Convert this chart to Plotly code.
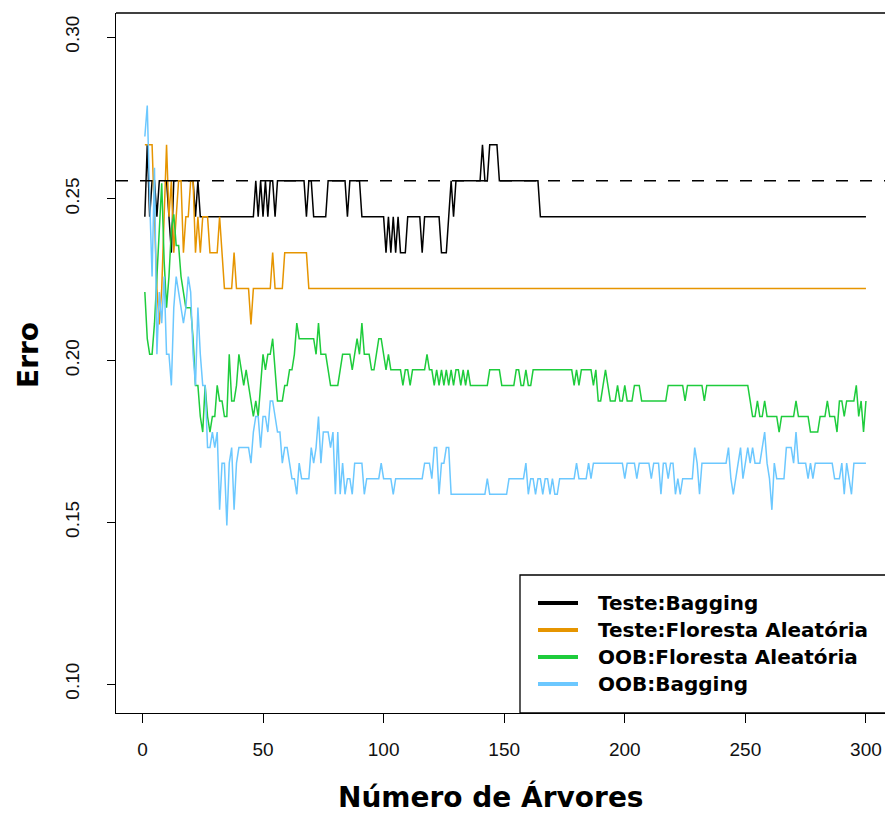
import plotly.graph_objects as go

# ---------------- data ----------------
N_TESTE = 90      # test-set size (errors are multiples of 1/90)
N_OOB = 208       # approx. OOB denominator (errors are multiples of ~1/208)

arvores = list(range(1, 301))

# number of misclassified test cases, Bagging
teste_bagging_erros = [
    22, 24, 22, 23, 23, 22, 23, 23, 23, 23,
    22, 21, 23, 23, 23, 23, 23, 23, 23, 23,
    23, 22, 23, 22, 22, 22, 22, 22, 22, 22,
    22, 22, 22, 22, 22, 22, 22, 22, 22, 22,
    22, 22, 22, 22, 22, 22, 23, 22, 23, 22,
    23, 22, 23, 23, 22, 23, 23, 23, 23, 23,
    23, 23, 23, 23, 23, 23, 23, 22, 23, 23,
    22, 22, 22, 22, 22, 22, 23, 23, 23, 23,
    23, 23, 23, 23, 22, 23, 23, 23, 23, 23,
    22, 22, 22, 22, 22, 22, 22, 22, 22, 22,
    21, 22, 21, 22, 21, 22, 21, 21, 21, 22,
    22, 22, 22, 22, 22, 21, 22, 22, 22, 22,
    22, 22, 22, 21, 21, 21, 22, 23, 22, 23,
    23, 23, 23, 23, 23, 23, 23, 23, 23, 23,
    24, 23, 23, 24, 24, 24, 24, 23, 23, 23,
    23, 23, 23, 23, 23, 23, 23, 23, 23, 23,
    23, 23, 23, 23, 22, 22, 22, 22, 22, 22,
    22, 22, 22, 22, 22, 22, 22, 22, 22, 22,
    22, 22, 22, 22, 22, 22, 22, 22, 22, 22,
    22, 22, 22, 22, 22, 22, 22, 22, 22, 22,
    22, 22, 22, 22, 22, 22, 22, 22, 22, 22,
    22, 22, 22, 22, 22, 22, 22, 22, 22, 22,
    22, 22, 22, 22, 22, 22, 22, 22, 22, 22,
    22, 22, 22, 22, 22, 22, 22, 22, 22, 22,
    22, 22, 22, 22, 22, 22, 22, 22, 22, 22,
    22, 22, 22, 22, 22, 22, 22, 22, 22, 22,
    22, 22, 22, 22, 22, 22, 22, 22, 22, 22,
    22, 22, 22, 22, 22, 22, 22, 22, 22, 22,
    22, 22, 22, 22, 22, 22, 22, 22, 22, 22,
    22, 22, 22, 22, 22, 22, 22, 22, 22, 22,
]

# number of misclassified test cases, Random Forest
teste_floresta_erros = [
    24, 24, 24, 24, 22, 20, 19, 20, 22, 24,
    22, 23, 21, 22, 23, 23, 21, 22, 22, 23,
    23, 21, 22, 21, 22, 22, 22, 21, 21, 21,
    21, 22, 21, 20, 20, 20, 20, 21, 20, 20,
    20, 20, 20, 20, 19, 20, 20, 20, 20, 20,
    20, 20, 20, 21, 20, 20, 20, 20, 21, 21,
    21, 21, 21, 21, 21, 21, 21, 21, 20, 20,
    20, 20, 20, 20, 20, 20, 20, 20, 20, 20,
    20, 20, 20, 20, 20, 20, 20, 20, 20, 20,
    20, 20, 20, 20, 20, 20, 20, 20, 20, 20,
    20, 20, 20, 20, 20, 20, 20, 20, 20, 20,
    20, 20, 20, 20, 20, 20, 20, 20, 20, 20,
    20, 20, 20, 20, 20, 20, 20, 20, 20, 20,
    20, 20, 20, 20, 20, 20, 20, 20, 20, 20,
    20, 20, 20, 20, 20, 20, 20, 20, 20, 20,
    20, 20, 20, 20, 20, 20, 20, 20, 20, 20,
    20, 20, 20, 20, 20, 20, 20, 20, 20, 20,
    20, 20, 20, 20, 20, 20, 20, 20, 20, 20,
    20, 20, 20, 20, 20, 20, 20, 20, 20, 20,
    20, 20, 20, 20, 20, 20, 20, 20, 20, 20,
    20, 20, 20, 20, 20, 20, 20, 20, 20, 20,
    20, 20, 20, 20, 20, 20, 20, 20, 20, 20,
    20, 20, 20, 20, 20, 20, 20, 20, 20, 20,
    20, 20, 20, 20, 20, 20, 20, 20, 20, 20,
    20, 20, 20, 20, 20, 20, 20, 20, 20, 20,
    20, 20, 20, 20, 20, 20, 20, 20, 20, 20,
    20, 20, 20, 20, 20, 20, 20, 20, 20, 20,
    20, 20, 20, 20, 20, 20, 20, 20, 20, 20,
    20, 20, 20, 20, 20, 20, 20, 20, 20, 20,
    20, 20, 20, 20, 20, 20, 20, 20, 20, 20,
]

# OOB misclassifications, Random Forest
oob_floresta_erros = [
    46, 43, 42, 42, 44, 47, 50, 53, 48, 45,
    47, 50, 51, 49, 49, 47, 46, 45, 45, 45,
    43, 40, 40, 38, 37, 40, 38, 37, 38, 38,
    40, 39, 39, 38, 38, 42, 39, 39, 40, 42,
    41, 40, 41, 40, 39, 38, 39, 38, 40, 42,
    41, 42, 42, 43, 41, 39, 39, 39, 40, 40,
    41, 41, 42, 44, 43, 43, 43, 43, 43, 43,
    43, 42, 44, 42, 42, 42, 41, 40, 40, 40,
    40, 41, 42, 42, 42, 42, 41, 42, 43, 42,
    44, 42, 42, 42, 41, 41, 42, 43, 43, 42,
    41, 42, 41, 41, 41, 41, 41, 40, 41, 41,
    40, 41, 41, 41, 41, 41, 41, 42, 41, 41,
    40, 41, 40, 41, 40, 41, 40, 41, 40, 41,
    41, 40, 41, 40, 41, 40, 40, 40, 40, 40,
    40, 40, 40, 41, 41, 41, 41, 41, 40, 40,
    40, 40, 40, 40, 41, 41, 40, 40, 41, 40,
    40, 41, 41, 41, 41, 41, 41, 41, 41, 41,
    41, 41, 41, 41, 41, 41, 41, 41, 40, 41,
    40, 41, 41, 41, 41, 41, 40, 41, 39, 39,
    40, 41, 40, 39, 39, 39, 40, 39, 39, 40,
    39, 39, 39, 40, 40, 40, 39, 39, 39, 39,
    39, 39, 39, 39, 39, 39, 39, 40, 40, 40,
    40, 40, 40, 40, 39, 40, 40, 40, 40, 40,
    40, 40, 39, 40, 40, 40, 40, 40, 40, 40,
    40, 40, 40, 40, 40, 40, 40, 40, 40, 40,
    40, 39, 38, 38, 39, 38, 38, 39, 38, 38,
    38, 38, 38, 37, 38, 38, 38, 38, 38, 38,
    39, 38, 38, 38, 38, 38, 37, 37, 37, 37,
    38, 38, 38, 39, 38, 38, 38, 37, 39, 39,
    38, 39, 39, 39, 39, 40, 38, 39, 37, 39,
]

# OOB misclassifications, Bagging
oob_bagging_erros = [
    56, 58, 52, 47, 54, 42, 46, 44, 47, 42,
    42, 40, 45, 47, 46, 45, 44, 45, 47, 46,
    42, 40, 45, 42, 40, 40, 36, 36, 37, 36,
    37, 32, 35, 35, 31, 35, 36, 32, 35, 36,
    36, 36, 36, 36, 35, 37, 38, 38, 36, 38,
    38, 37, 39, 39, 38, 37, 37, 35, 36, 36,
    35, 34, 34, 33, 35, 34, 34, 34, 34, 36,
    35, 36, 38, 35, 37, 37, 37, 36, 37, 33,
    37, 33, 35, 33, 34, 34, 33, 35, 35, 35,
    35, 33, 34, 34, 34, 34, 34, 34, 35, 34,
    34, 34, 34, 33, 34, 34, 34, 34, 34, 34,
    34, 34, 34, 34, 34, 34, 35, 35, 35, 34,
    36, 36, 33, 35, 35, 36, 36, 33, 33, 33,
    33, 33, 33, 33, 33, 33, 33, 33, 33, 33,
    33, 33, 34, 33, 33, 33, 33, 33, 33, 33,
    33, 34, 34, 34, 34, 34, 34, 34, 35, 33,
    34, 34, 33, 34, 34, 33, 34, 34, 33, 34,
    33, 33, 34, 34, 34, 34, 34, 34, 34, 35,
    34, 34, 34, 34, 35, 34, 35, 35, 35, 35,
    35, 35, 35, 35, 35, 35, 35, 35, 35, 34,
    35, 35, 35, 35, 34, 35, 35, 35, 35, 35,
    34, 35, 35, 35, 33, 35, 35, 34, 35, 35,
    33, 34, 33, 34, 34, 34, 34, 34, 36, 35,
    33, 35, 35, 35, 35, 35, 35, 35, 35, 35,
    35, 35, 36, 34, 33, 34, 35, 36, 34, 35,
    36, 35, 36, 35, 35, 35, 36, 37, 35, 34,
    32, 35, 34, 34, 34, 34, 36, 36, 36, 35,
    37, 35, 35, 35, 35, 34, 35, 34, 35, 35,
    35, 35, 35, 35, 35, 35, 34, 34, 34, 35,
    33, 35, 34, 33, 35, 35, 35, 35, 35, 35,
]

referencia_erros = 23   # dashed reference line (errors out of N_TESTE)

series_nomes = ["Teste:Bagging", "Teste:Floresta Aleatória",
                "OOB:Floresta Aleatória", "OOB:Bagging"]
series_cores = ["#000000", "#E69500", "#1ECC3C", "#6CC8FF"]

x_ticks = [0, 50, 100, 150, 200, 250, 300]
y_ticks = [0.10, 0.15, 0.20, 0.25, 0.30]
y_ticktext = ["0.10", "0.15", "0.20", "0.25", "0.30"]

# ---------------- derived rates ----------------
teste_bagging = [e / N_TESTE for e in teste_bagging_erros]
teste_floresta = [e / N_TESTE for e in teste_floresta_erros]
oob_floresta = [e / N_OOB for e in oob_floresta_erros]
oob_bagging = [e / N_OOB for e in oob_bagging_erros]
referencia = referencia_erros / N_TESTE

series_valores = [teste_bagging, teste_floresta, oob_floresta, oob_bagging]

# ---------------- figure ----------------
W, H = 885, 816
ML, MR, MT, MB = 116, 0, 13, 103
PW, PH = W - ML - MR, H - MT - MB


def px(xp):
    return (xp - ML) / PW


def py(yp):
    return (H - MB - yp) / PH


fig = go.Figure()
for nome, cor, vals in zip(series_nomes, series_cores, series_valores):
    fig.add_trace(go.Scatter(x=arvores, y=vals, mode="lines", name=nome,
                             line=dict(color=cor, width=1.5),
                             showlegend=False))

fig.add_hline(y=referencia, line=dict(color="black", width=1.4, dash="12px,12px"))

axis_font = dict(family="Liberation Sans, Arial, sans-serif", size=19, color="#111")

fig.update_layout(
    width=W, height=H,
    margin=dict(l=ML, r=MR, t=MT, b=MB, pad=0),
    paper_bgcolor="white", plot_bgcolor="white",
    showlegend=False,
    xaxis=dict(range=[-10.96, 307.9], tickvals=x_ticks,
               ticks="outside", ticklen=9, tickwidth=1.3, tickcolor="black",
               showline=True, linecolor="black", linewidth=1.3,
               showgrid=False, zeroline=False, tickfont=axis_font,
               ticklabelstandoff=10),
    yaxis=dict(range=[0.09104, 0.30742], tickvals=y_ticks, ticktext=y_ticktext,
               tickangle=-90,
               ticks="outside", ticklen=8, tickwidth=1.3, tickcolor="black",
               showline=True, linecolor="black", linewidth=1.3,
               showgrid=False, zeroline=False, tickfont=axis_font,
               ticklabelstandoff=20),
)

# top frame line
fig.add_shape(type="line", xref="paper", yref="paper", x0=0, x1=1.02, y0=1, y1=1,
              line=dict(color="black", width=1.3))

# axis titles
title_font = dict(family="DejaVu Sans, sans-serif", size=28, color="black", weight="bold")
fig.add_annotation(text="Número de Árvores", xref="paper", yref="paper",
                   x=px(491), y=py(797), showarrow=False, font=title_font,
                   xanchor="center", yanchor="middle")
fig.add_annotation(text="Erro", xref="paper", yref="paper",
                   x=px(28), y=py(355), showarrow=False, font=title_font,
                   textangle=-90, xanchor="center", yanchor="middle")

# legend box (drawn manually to match the R legend)
fig.add_shape(type="rect", xref="paper", yref="paper",
              x0=px(520), x1=px(900), y0=py(713), y1=py(575),
              line=dict(color="black", width=1.3), fillcolor="white", layer="above")
leg_font = dict(family="DejaVu Sans, sans-serif", size=20, color="black", weight="bold")
leg_rows = [603, 630, 657, 684]
for nome, cor, yrow in zip(series_nomes, series_cores, leg_rows):
    fig.add_shape(type="line", xref="paper", yref="paper",
                  x0=px(538), x1=px(578), y0=py(yrow), y1=py(yrow),
                  line=dict(color=cor, width=4), layer="above")
    fig.add_annotation(text=nome, xref="paper", yref="paper",
                       x=px(596), y=py(yrow), showarrow=False, font=leg_font,
                       xanchor="left", yanchor="middle")

fig.write_html("out.html")
